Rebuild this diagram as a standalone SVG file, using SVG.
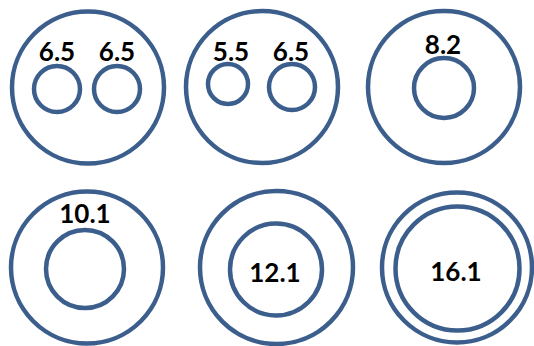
<svg xmlns="http://www.w3.org/2000/svg" width="534" height="346" viewBox="0 0 534 346">
<style>
.c{fill:none;stroke:#3B5E8C;stroke-width:4.5}
.t{font-family:Lato,"Liberation Sans",sans-serif;font-weight:bold;font-size:26px;fill:#000;text-anchor:middle}
</style>
<rect width="534" height="346" fill="#fff"/>
<g id="n1">
<circle class="c" cx="88" cy="87.5" r="76"/>
<circle class="c" cx="57" cy="89" r="23"/>
<circle class="c" cx="117" cy="89" r="23"/>
<text class="t" x="57" y="61">6.5</text>
<text class="t" x="117" y="61">6.5</text>
</g>
<g id="n2">
<circle class="c" cx="262" cy="87" r="76"/>
<circle class="c" cx="228" cy="84" r="20"/>
<circle class="c" cx="292" cy="87" r="23"/>
<text class="t" x="231" y="61">5.5</text>
<text class="t" x="291" y="61">6.5</text>
</g>
<g id="n3">
<circle class="c" cx="444" cy="87" r="76"/>
<circle class="c" cx="444" cy="88" r="30"/>
<text class="t" x="443" y="54">8.2</text>
</g>
<g id="n4">
<circle class="c" cx="87" cy="267.5" r="76"/>
<circle class="c" cx="85" cy="269" r="39"/>
<text class="t" x="85" y="223">10.1</text>
</g>
<g id="n5">
<circle class="c" cx="276.5" cy="267.5" r="76.5"/>
<circle class="c" cx="276" cy="269.5" r="46"/>
<text class="t" x="275" y="282">12.1</text>
</g>
<g id="n6">
<circle class="c" cx="457" cy="267.5" r="75"/>
<circle class="c" cx="457.5" cy="268.5" r="62"/>
<text class="t" x="456" y="281">16.1</text>
</g>
<g id="connectors"/>
</svg>
